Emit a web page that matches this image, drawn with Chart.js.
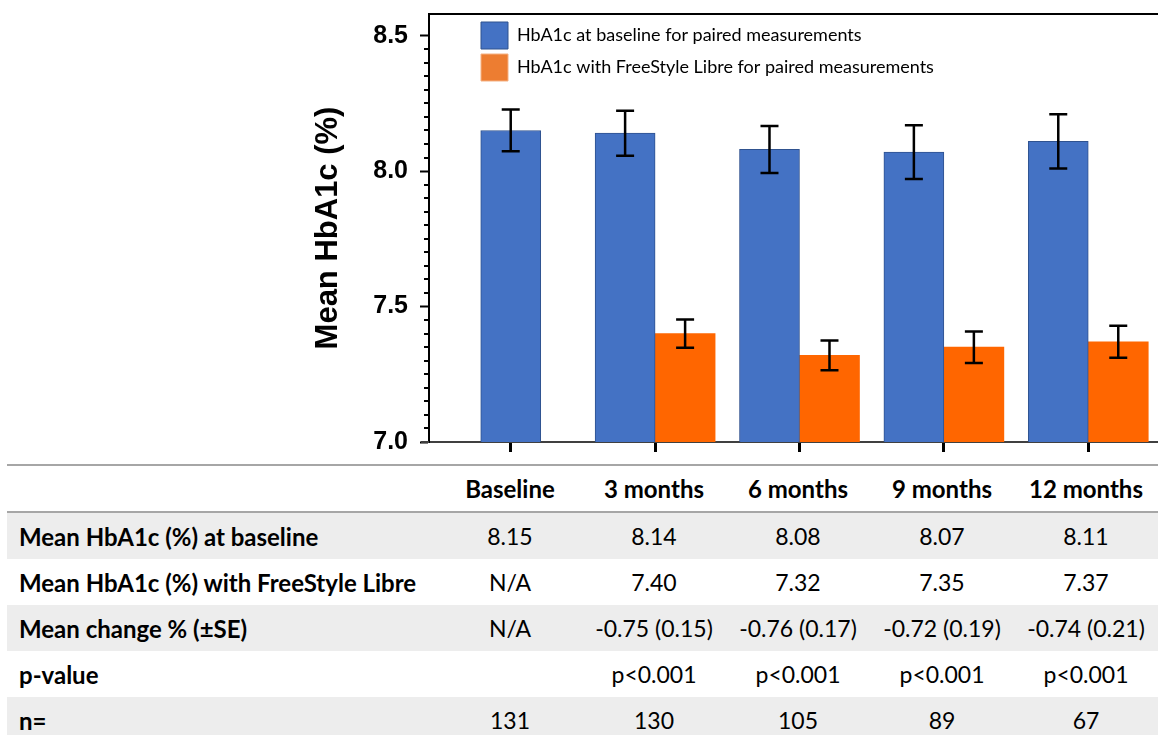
<!DOCTYPE html>
<html>
<head>
<meta charset="utf-8">
<script src="https://cdn.jsdelivr.net/npm/chart.js@4.4.0/dist/chart.umd.min.js"></script>
<style>
  body { margin: 0; background: #fff; width: 1158px; height: 735px; overflow: hidden; position: relative; }
  #wrap { position: absolute; left: 0; top: 0; width: 1158px; height: 460px; }
  #tbl { position: absolute; left: 7px; top: 464px; width: 1151px; border-collapse: collapse; table-layout: fixed;
         font-family: Lato, "Open Sans", sans-serif; font-size: 23px; color: #000; }
  #tbl td, #tbl th { padding: 0; height: 46px; text-align: center; vertical-align: middle; white-space: nowrap; }
  #tbl thead th { font-weight: bold; font-size: 24px; border-top: 2px solid #a6a6a6; border-bottom: 2px solid #a6a6a6; height: 45px; }
  #tbl td.lab { text-align: left; padding-left: 12px; font-weight: bold; font-size: 24px; }
  #tbl tr.shade td { background: #ededed; }
</style>
</head>
<body>
<div id="wrap"><canvas id="chart"></canvas></div>
<table id="tbl"></table>
<script>
const categories = ['Baseline', '3 months', '6 months', '9 months', '12 months'];
const baselineMeans = [8.15, 8.14, 8.08, 8.07, 8.11];
const libreMeans = [null, 7.40, 7.32, 7.35, 7.37];
const baselineErr = [0.077, 0.083, 0.087, 0.099, 0.100];
const libreErr = [null, 0.052, 0.055, 0.058, 0.059];
const meanChange = [null, -0.75, -0.76, -0.72, -0.74];
const changeSE = [null, 0.15, 0.17, 0.19, 0.21];
const pValues = ['', 'p<0.001', 'p<0.001', 'p<0.001', 'p<0.001'];
const nValues = [131, 130, 105, 89, 67];
const majorTicks = [7.0, 7.5, 8.0, 8.5];
const minorStep = 0.05;

const seriesLabels = ['HbA1c at baseline for paired measurements', 'HbA1c with FreeStyle Libre for paired measurements'];

// y ticks: every 0.05, labels only on the majors
const yTicks = [];
for (let v = majorTicks[0]; v <= majorTicks[majorTicks.length - 1] + 1e-9; v += minorStep) yTicks.push(Math.round(v * 100) / 100);
const isMajor = v => majorTicks.some(m => Math.abs(m - v) < 1e-6);

// table
function buildTable() {
  const t = document.getElementById('tbl');
  let html = '<colgroup><col style="width:431px">' + categories.map(() => '<col style="width:144px">').join('') + '</colgroup>';
  html += '<thead><tr><th></th>' + categories.map(c => `<th>${c}</th>`).join('') + '</tr></thead><tbody>';
  const rows = [
    ['Mean HbA1c (%) at baseline', baselineMeans.map(v => v.toFixed(2))],
    ['Mean HbA1c (%) with FreeStyle Libre', libreMeans.map(v => v == null ? 'N/A' : v.toFixed(2))],
    ['Mean change % (\u00B1SE)', meanChange.map((v, i) => v == null ? 'N/A' : `${v.toFixed(2)} (${changeSE[i].toFixed(2)})`)],
    ['p-value', pValues],
    ['n=', nValues.map(String)]
  ];
  rows.forEach((r, i) => {
    html += `<tr class="${i % 2 === 0 ? 'shade' : ''}"><td class="lab">${r[0]}</td>` + r[1].map(v => `<td>${v}</td>`).join('') + '</tr>';
  });
  t.innerHTML = html + '</tbody>';
}
buildTable();

const framePlugin = {
  id: 'frame',
  afterLayout(chart) {
    const a = chart.chartArea;
    chart.legend.left = a.left + 47;
    chart.legend.top = 17;
  },
  afterDatasetsDraw(chart) {
    const ctx = chart.ctx;
    const ys = chart.scales.y;
    const errs = [baselineErr, libreErr];
    ctx.save();
    ctx.strokeStyle = '#000';
    ctx.lineWidth = 2.5;
    chart.data.datasets.forEach((ds, di) => {
      const meta = chart.getDatasetMeta(di);
      meta.data.forEach((bar, i) => {
        const v = ds.data[i].y;
        const e = errs[di][i];
        if (v == null || e == null) return;
        const top = ys.getPixelForValue(v + e);
        const bot = ys.getPixelForValue(v - e);
        ctx.beginPath();
        ctx.moveTo(bar.x, top); ctx.lineTo(bar.x, bot);
        ctx.moveTo(bar.x - 9, top); ctx.lineTo(bar.x + 9, top);
        ctx.moveTo(bar.x - 9, bot); ctx.lineTo(bar.x + 9, bot);
        ctx.stroke();
      });
    });
    ctx.restore();
  },
  afterDraw(chart) {
    const ctx = chart.ctx;
    const a = chart.chartArea;
    const ys = chart.scales.y;
    ctx.save();
    ctx.strokeStyle = '#000';
    ctx.lineWidth = 2;
    ctx.beginPath();
    ctx.moveTo(a.left - 1, a.top);
    ctx.lineTo(chart.width, a.top);
    ctx.stroke();
    // x axis line runs a little past the y axis
    ctx.strokeStyle = '#404040';
    ctx.beginPath();
    ctx.moveTo(a.left - 8, a.bottom);
    ctx.lineTo(a.left, a.bottom);
    ctx.stroke();
    ctx.strokeStyle = '#000';
    ctx.lineWidth = 2;
    ys.ticks.forEach(t => {
      if (isMajor(t.value)) return;
      const py = Math.round(ys.getPixelForValue(t.value));
      ctx.beginPath();
      ctx.moveTo(a.left - 5, py);
      ctx.lineTo(a.left, py);
      ctx.stroke();
    });
    ctx.restore();
  }
};

new Chart(document.getElementById('chart'), {
  type: 'bar',
  data: {
    datasets: [
      {
        label: seriesLabels[0],
        data: categories.map((c, i) => ({ x: i, y: baselineMeans[i] })),
        backgroundColor: '#4472C4',
        borderColor: '#2F528F',
        borderWidth: 1,
        barThickness: 60,
        skipNull: true
      },
      {
        label: seriesLabels[1],
        data: categories.map((c, i) => ({ x: i, y: libreMeans[i] })),
        backgroundColor: '#FF6600',
        borderWidth: 0,
        barThickness: 60,
        skipNull: true
      }
    ]
  },
  options: {
    responsive: true,
    maintainAspectRatio: false,
    animation: false,
    layout: { padding: { left: 300, top: 14, right: 0, bottom: 8 } },
    plugins: {
      tooltip: { enabled: false },
      legend: {
        position: 'chartArea',
        align: 'start',
        labels: {
          boxWidth: 27,
          boxHeight: 27,
          padding: 5,
          color: '#000',
          font: { family: 'Lato', size: 18 },
          generateLabels: chart => [
            { text: seriesLabels[0], fillStyle: '#4472C4', strokeStyle: '#2F528F', lineWidth: 1, hidden: false, datasetIndex: 0 },
            { text: seriesLabels[1], fillStyle: '#ED7D31', strokeStyle: '#F4B183', lineWidth: 1, hidden: false, datasetIndex: 1 }
          ]
        }
      }
    },
    scales: {
      x: {
        type: 'linear',
        offset: false,
        min: -0.566,
        max: 4.483,
        afterBuildTicks: s => { s.ticks = categories.map((c, i) => ({ value: i })); },
        afterFit: s => { s.paddingLeft = 0; s.paddingRight = 0; },
        border: { color: '#404040', width: 2 },
        grid: { offset: false, drawOnChartArea: false, tickLength: 10, tickWidth: 3, tickColor: '#000' },
        ticks: { display: false }
      },
      y: {
        min: 7.0,
        max: 8.58,
        afterBuildTicks: s => { s.ticks = yTicks.map(v => ({ value: v })); },
        afterFit: s => { s.width = 129; s.paddingTop = 0; s.paddingBottom = 0; },
        border: { color: '#000', width: 2 },
        grid: {
          drawOnChartArea: false,
          tickLength: 9,
          tickWidth: 2,
          tickColor: c => (c.tick && isMajor(c.tick.value)) ? '#000' : 'rgba(0,0,0,0)'
        },
        ticks: {
          autoSkip: false,
          padding: 12,
          color: '#000',
          font: { family: 'Liberation Sans', weight: 'bold', size: 25 },
          callback: v => isMajor(v) ? v.toFixed(1) : ''
        },
        title: {
          display: true,
          text: 'Mean HbA1c (%)',
          color: '#000',
          font: { family: 'Liberation Sans', weight: 'bold', size: 31 },
          padding: { top: 10, bottom: 0 }
        }
      }
    }
  },
  plugins: [framePlugin]
});
</script>
</body>
</html>
